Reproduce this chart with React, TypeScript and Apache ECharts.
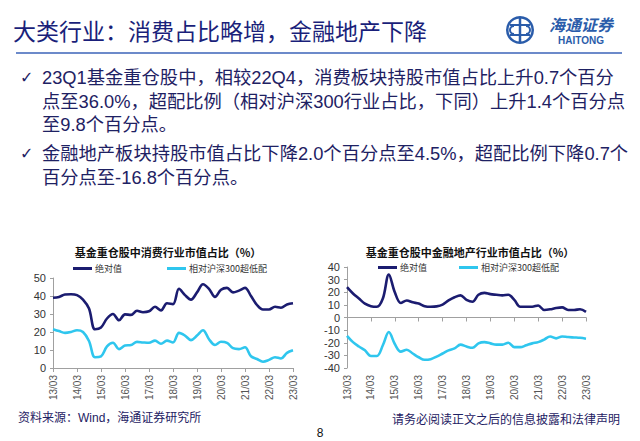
import React, { useEffect, useRef } from "react";
import * as echarts from "echarts";

const categories = [
  "13/03", "13/06", "13/09", "13/12",
  "14/03", "14/06", "14/09", "14/12",
  "15/03", "15/06", "15/09", "15/12",
  "16/03", "16/06", "16/09", "16/12",
  "17/03", "17/06", "17/09", "17/12",
  "18/03", "18/06", "18/09", "18/12",
  "19/03", "19/06", "19/09", "19/12",
  "20/03", "20/06", "20/09", "20/12",
  "21/03", "21/06", "21/09", "21/12",
  "22/03", "22/06", "22/09", "22/12",
  "23/03",
];

const consumerAbs = [
  39, 39.5, 40.8, 41, 40.5, 38, 33, 21.5, 22.5, 27.5, 30, 26.5, 29.8, 29.5, 31.8, 31,
  31.5, 34, 32, 36, 35.5, 44, 40.5, 38, 42, 46.5, 44, 39.5, 43.5, 44.5, 42, 43,
  44.5, 40, 35, 32.5, 32.5, 34, 33.5, 35.3, 36,
];
const consumerRel = [
  21.5, 20.5, 19.5, 20, 21, 20, 15, 6, 6.5, 12, 14, 10.5, 12.5, 12.8, 14.5, 14.2,
  14, 15.2, 13.5, 15.2, 14.2, 19.5, 18, 15.5, 18, 21, 16, 12.8, 14.6, 14, 11, 10.5,
  11.5, 6.5, 5, 3.5, 4.5, 6, 5.3, 8.4, 9.8,
];
const financeAbs = [
  24, 19, 15, 11, 9, 8.5, 15, 34, 20, 11.5, 13.5, 12, 11, 9, 8.5, 8.8,
  10.2, 13.5, 16, 17.5, 14, 12.5, 18, 19.5, 18.5, 18, 17.5, 18, 14, 8.5, 8.5, 8.5,
  9.5, 6, 6.5, 7.5, 8, 6, 6, 6.5, 4.5,
];
const financeRel = [
  -14.5, -19.5, -23, -26, -30.5, -30.5, -22, -11.5, -21, -27, -25.5, -28.5, -31.5, -33.5, -33, -31,
  -28.5, -26, -24.5, -21.5, -23, -24, -20.5, -19.5, -20.5, -21.5, -21.5, -20, -23.5, -23.5, -22, -20.5,
  -19.5, -17.5, -15, -16.5, -15, -15.5, -15.8, -16.1, -16.8,
];

const seriesNames = ["绝对值", "相对沪深300超低配"];
const chartTitles = ["基金重仓股中消费行业市值占比（%）", "基金重仓股中金融地产行业市值占比（%）"];
const pageTitle = "大类行业：消费占比略增，金融地产下降";
const bulletLines = [
  "23Q1基金重仓股中，相较22Q4，消费板块持股市值占比上升0.7个百分",
  "点至36.0%，超配比例（相对沪深300行业占比，下同）上升1.4个百分点",
  "至9.8个百分点。",
  "金融地产板块持股市值占比下降2.0个百分点至4.5%，超配比例下降0.7个",
  "百分点至-16.8个百分点。",
];
const sourceText = "资料来源：Wind，海通证券研究所";
const disclaimerText = "请务必阅读正文之后的信息披露和法律声明";
const pageNumber = "8";

const NAVY = "#1b1c70";
const CYAN = "#2fc6ee";
const TEXT = "#1e2163";
const FONT = "'Liberation Sans', 'Noto Sans CJK SC', sans-serif";
const CJK = "'Noto Sans CJK SC', sans-serif";

function App() {
  const ref = useRef<HTMLDivElement>(null);
  useEffect(() => {
    if (!ref.current) return;
    const chart = echarts.init(ref.current, undefined, { renderer: "svg" });

    const axisLineStyle = { color: "#a0a0a0", width: 1 };
    const xLabel = {
      interval: 3,
      rotate: 90,
      fontSize: 10,
      color: "#555",
      fontFamily: "'Liberation Sans', sans-serif",
      margin: 7,
    };
    const yLabel = {
      fontSize: 11,
      color: "#333",
      fontFamily: "'Liberation Sans', sans-serif",
      margin: 7,
    };

    const lineSeries = (name: string, data: number[], color: string, xi: number, yi: number) => ({
      type: "line",
      name,
      data,
      xAxisIndex: xi,
      yAxisIndex: yi,
      smooth: 0.35,
      symbol: "none",
      lineStyle: { color, width: 2.6 },
      itemStyle: { color },
    });

    const legendItem = (name: string, left: number, top: number) => ({
      data: [name],
      left,
      top,
      padding: 0,
      icon: "rect",
      itemWidth: 19,
      itemHeight: 3,
      itemGap: 4,
      selectedMode: false,
      textStyle: { fontSize: 9, color: "#333", fontFamily: CJK, padding: [0, 0, 0, -2] },
    });

    const bulletGraphics: any[] = [];
    const lineY = [77, 101, 124, 153, 177];
    bulletLines.forEach((t, i) => {
      bulletGraphics.push({
        type: "text",
        x: 42,
        y: lineY[i],
        style: {
          text: t,
          font: `18.3px ${FONT}`,
          fill: TEXT,
          textVerticalAlign: "middle",
        },
      });
    });
    [0, 3].forEach((i) => {
      bulletGraphics.push({
        type: "text",
        x: 20,
        y: lineY[i],
        style: {
          text: "✓",
          font: `16px 'DejaVu Sans', sans-serif`,
          fill: TEXT,
          textVerticalAlign: "middle",
        },
      });
    });

    const option: any = {
      animation: false,
      backgroundColor: "#ffffff",
      grid: [
        { left: 53, top: 278, width: 240, height: 90, containLabel: false },
        { left: 347, top: 267, width: 239, height: 101, containLabel: false },
      ],
      xAxis: [
        {
          gridIndex: 0,
          type: "category",
          data: categories,
          boundaryGap: false,
          axisLine: { lineStyle: axisLineStyle },
          axisTick: { interval: 3, length: 4, lineStyle: axisLineStyle },
          axisLabel: xLabel,
          splitLine: { show: false },
        },
        {
          gridIndex: 1,
          type: "category",
          data: categories,
          boundaryGap: false,
          position: "bottom",
          axisLine: { onZero: true, lineStyle: axisLineStyle },
          axisTick: { interval: 3, length: 4, lineStyle: axisLineStyle },
          axisLabel: { show: false },
          splitLine: { show: false },
        },
        {
          gridIndex: 1,
          type: "category",
          data: categories,
          boundaryGap: false,
          position: "bottom",
          axisLine: { show: false, onZero: false },
          axisTick: { show: false },
          axisLabel: xLabel,
          splitLine: { show: false },
        },
      ],
      yAxis: [
        {
          gridIndex: 0,
          type: "value",
          min: 0,
          max: 50,
          interval: 10,
          axisLine: { show: true, lineStyle: axisLineStyle },
          axisTick: { show: true, length: 3, lineStyle: axisLineStyle },
          axisLabel: yLabel,
          splitLine: { show: false },
        },
        {
          gridIndex: 1,
          type: "value",
          min: -40,
          max: 40,
          interval: 10,
          axisLine: { show: true, lineStyle: axisLineStyle },
          axisTick: { show: true, length: 3, lineStyle: axisLineStyle },
          axisLabel: yLabel,
          splitLine: { show: false },
        },
      ],
      legend: [
        legendItem(seriesNames[0], 73, 264),
        legendItem(seriesNames[1], 167, 264),
        legendItem(seriesNames[0], 378, 263),
        legendItem(seriesNames[1], 459, 263),
      ],
      series: [
        lineSeries(seriesNames[0], consumerAbs, NAVY, 0, 0),
        lineSeries(seriesNames[1], consumerRel, CYAN, 0, 0),
        lineSeries(seriesNames[0], financeAbs, NAVY, 1, 1),
        lineSeries(seriesNames[1], financeRel, CYAN, 1, 1),
      ],
      graphic: [
        {
          type: "text",
          x: 13,
          y: 30,
          style: {
            text: pageTitle,
            font: `23px ${CJK}`,
            fill: "#1a1f7a",
            textVerticalAlign: "middle",
          },
        },
        {
          type: "line",
          shape: { x1: 16, y1: 53, x2: 622, y2: 53 },
          style: { stroke: "#3b63b8", lineWidth: 1.5 },
        },
        // logo
        {
          type: "ring",
          shape: { cx: 520, cy: 30, r: 14, r0: 11.5 },
          style: { fill: "#2a5caa" },
        },
        {
          type: "line",
          shape: { x1: 520, y1: 17, x2: 520, y2: 43 },
          style: { stroke: "#2a5caa", lineWidth: 2.5 },
        },
        {
          type: "line",
          shape: { x1: 510, y1: 25, x2: 530, y2: 25 },
          style: { stroke: "#2a5caa", lineWidth: 2 },
        },
        {
          type: "line",
          shape: { x1: 510, y1: 35, x2: 530, y2: 35 },
          style: { stroke: "#2a5caa", lineWidth: 2 },
        },
        {
          type: "arc",
          shape: { cx: 514, cy: 30, r: 4, startAngle: Math.PI / 2, endAngle: (3 * Math.PI) / 2 },
          style: { stroke: "#2a5caa", lineWidth: 2, fill: "none" },
        },
        {
          type: "arc",
          shape: { cx: 526, cy: 30, r: 4, startAngle: -Math.PI / 2, endAngle: Math.PI / 2 },
          style: { stroke: "#2a5caa", lineWidth: 2, fill: "none" },
        },
        {
          type: "text",
          x: 581,
          y: 24,
          style: {
            text: "海通证券",
            font: `italic bold 16px ${CJK}`,
            fill: "#2a5caa",
            textAlign: "center",
            textVerticalAlign: "middle",
          },
        },
        {
          type: "text",
          x: 581,
          y: 40,
          style: {
            text: "HAITONG",
            font: `bold 10px 'Liberation Sans', sans-serif`,
            fill: "#2a5caa",
            textAlign: "center",
            textVerticalAlign: "middle",
          },
        },
        ...bulletGraphics,
        {
          type: "text",
          x: 168,
          y: 252,
          style: {
            text: chartTitles[0],
            font: `bold 11px ${CJK}`,
            fill: "#111",
            textAlign: "center",
            textVerticalAlign: "middle",
          },
        },
        {
          type: "text",
          x: 470,
          y: 252,
          style: {
            text: chartTitles[1],
            font: `bold 11px ${CJK}`,
            fill: "#111",
            textAlign: "center",
            textVerticalAlign: "middle",
          },
        },
        {
          type: "text",
          x: 18,
          y: 418,
          style: {
            text: sourceText,
            font: `12px ${FONT}`,
            fill: TEXT,
            textVerticalAlign: "middle",
          },
        },
        {
          type: "text",
          x: 620,
          y: 418,
          style: {
            text: disclaimerText,
            font: `12px ${CJK}`,
            fill: TEXT,
            textAlign: "right",
            textVerticalAlign: "middle",
          },
        },
        {
          type: "text",
          x: 320,
          y: 433,
          style: {
            text: pageNumber,
            font: `12px 'Liberation Sans', sans-serif`,
            fill: "#111",
            textAlign: "center",
            textVerticalAlign: "middle",
          },
        },
      ],
    };

    chart.setOption(option);
    return () => chart.dispose();
  }, []);

  return (
    <div
      ref={ref}
      style={{ position: "fixed", left: 0, top: 0, width: 640, height: 441, background: "#fff" }}
    />
  );
}

export default App;
